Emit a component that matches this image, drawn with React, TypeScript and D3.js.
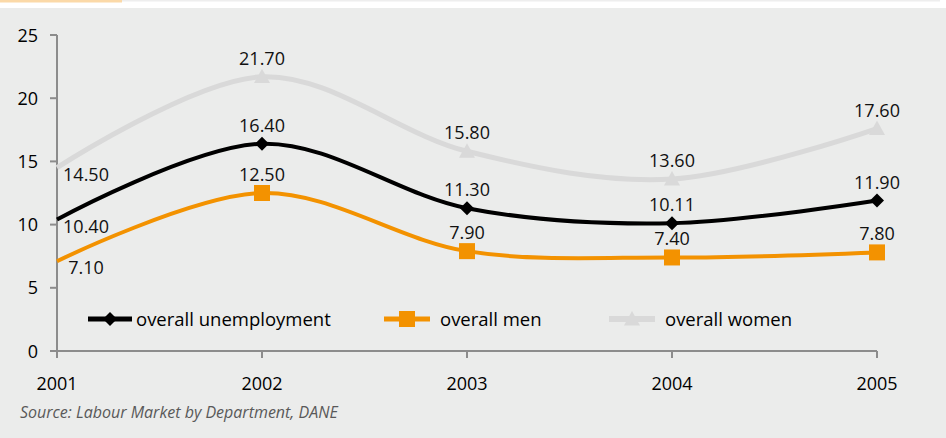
import React from "react";
import * as d3 from "d3";

const years = ["2001", "2002", "2003", "2004", "2005"];
const unemployment = [10.4, 16.4, 11.3, 10.11, 11.9];
const men = [7.1, 12.5, 7.9, 7.4, 7.8];
const women = [14.5, 21.7, 15.8, 13.6, 17.6];
const yTicks = [0, 5, 10, 15, 20, 25];
const seriesNames = ["overall unemployment", "overall men", "overall women"];
const sourceText = "Source: Labour Market by Department, DANE";

const W = 946;
const H = 438;
const FONT = "'Open Sans', 'DejaVu Sans', sans-serif";

export default function App() {
  const x = d3.scalePoint<string>().domain(years).range([57, 877]);
  const y = d3.scaleLinear().domain([0, 25]).range([351, 35]);
  const line = d3
    .line<number>()
    .x((_, i) => x(years[i]) as number)
    .y((d) => y(d))
    .curve(d3.curveCardinal.tension(0));

  const series = [
    { name: seriesNames[0], data: unemployment, color: "#000000", width: 4, marker: "diamond" },
    { name: seriesNames[1], data: men, color: "#f39200", width: 4, marker: "square" },
    { name: seriesNames[2], data: women, color: "#d9d9d9", width: 5, marker: "triangle" },
  ];
  const drawOrder = [series[2], series[1], series[0]];

  const marker = (kind: string, cx: number, cy: number, color: string, key: string) => {
    if (kind === "diamond") {
      const s = 7;
      return <path key={key} d={`M${cx},${cy - s}L${cx + s},${cy}L${cx},${cy + s}L${cx - s},${cy}Z`} fill={color} />;
    }
    if (kind === "square") {
      const s = 8;
      return <rect key={key} x={cx - s} y={cy - s} width={2 * s} height={2 * s} fill={color} />;
    }
    const s = 8;
    return <path key={key} d={`M${cx},${cy - s}L${cx + s},${cy + s * 0.8}L${cx - s},${cy + s * 0.8}Z`} fill={color} />;
  };

  const legendItems = [
    { s: series[0], x0: 88, x1: 132, tx: 136 },
    { s: series[1], x0: 384, x1: 430, tx: 440 },
    { s: series[2], x0: 609, x1: 655, tx: 665 },
  ];

  return (
    <svg width={W} height={H} style={{ position: "absolute", left: 0, top: 0 }}>
      <rect x={0} y={0} width={W} height={H} fill="#ffffff" />
      <rect x={0} y={0} width={940} height={1.5} fill="#eeeeee" />
      <rect x={0} y={0} width={122} height={2.5} fill="#fbd9a8" />
      <rect x={0} y={8} width={W} height={H - 8} fill="#ebeceb" />

      {/* axes */}
      <line x1={57} x2={57} y1={y(25)} y2={y(0)} stroke="#8c8c8c" strokeWidth={2} />
      <line x1={57} x2={877} y1={y(0)} y2={y(0)} stroke="#8c8c8c" strokeWidth={2} />
      {yTicks.map((t) => (
        <g key={t}>
          <line x1={50} x2={57} y1={y(t)} y2={y(t)} stroke="#8c8c8c" strokeWidth={2} />
          <text x={38} y={y(t) + 6.5} textAnchor="end" fontFamily={FONT} fontSize={18} fill="#000">
            {t}
          </text>
        </g>
      ))}
      {years.map((yr) => (
        <g key={yr}>
          <line x1={x(yr)} x2={x(yr)} y1={y(0)} y2={y(0) + 7} stroke="#8c8c8c" strokeWidth={2} />
          <text x={x(yr)} y={390} textAnchor="middle" fontFamily={FONT} fontSize={18} fill="#000">
            {yr}
          </text>
        </g>
      ))}

      {/* lines */}
      {drawOrder.map((s) => (
        <path key={s.name} d={line(s.data) || ""} fill="none" stroke={s.color} strokeWidth={s.width} />
      ))}
      {drawOrder.map((s) =>
        s.data.map((v, i) => (i === 0 ? null : marker(s.marker, x(years[i]) as number, y(v), s.color, s.name + i)))
      )}

      {/* data labels */}
      {drawOrder.map((s) =>
        s.data.map((v, i) => {
          const px = x(years[i]) as number;
          const py = y(v);
          const lx = i === 0 ? px + 29 : px;
          const ly = i === 0 ? py + 13 : py - 12;
          return (
            <text key={s.name + "l" + i} x={lx} y={ly} textAnchor="middle" fontFamily={FONT} fontSize={18} fill="#111">
              {v.toFixed(2)}
            </text>
          );
        })
      )}

      {/* legend */}
      {legendItems.map(({ s, x0, x1, tx }) => (
        <g key={s.name}>
          <line x1={x0} x2={x1} y1={319} y2={319} stroke={s.color} strokeWidth={s.width + 1} />
          {marker(s.marker, (x0 + x1) / 2, 319, s.color, s.name + "lm")}
          <text x={tx} y={325.5} fontFamily={FONT} fontSize={18.5} fill="#000">
            {s.name}
          </text>
        </g>
      ))}

      <text x={20} y={418} fontFamily={FONT} fontStyle="italic" fontSize={16} fill="#595959">
        {sourceText}
      </text>
    </svg>
  );
}
